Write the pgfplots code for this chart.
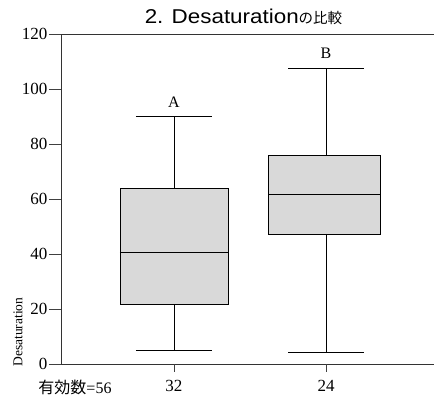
\documentclass[border=0pt]{standalone}
\usepackage{fontspec}
\setmainfont{Liberation Serif}
\newfontfamily\titlefont{Liberation Sans}
\newfontfamily\cjk{Noto Sans CJK JP}
\usepackage{graphicx}
\usepackage{pgfplots}
\pgfplotsset{compat=1.18}
\begin{document}
\begin{tikzpicture}
\begin{axis}[
  scale only axis,
  width=373pt, height=330pt,
  xmin=0.257, xmax=2.71,
  ymin=0, ymax=120,
  axis x line*=box,
  axis y line*=left,
  axis line style={line width=0.9pt, black!80},
  xtick={1,2}, xticklabels={32,24},
  xtick pos=bottom,
  x tick style={draw=none},
  xticklabel style={yshift=-1pt},
  ytick={0,20,...,120},
  tick align=outside,
  major tick length=12pt,
  y tick style={line width=0.8pt, black!75},
  yticklabel style={xshift=2pt},
  ticklabel style={font=\fontsize{17}{19}\selectfont},
  /pgf/number format/assume math mode=true,
  clip=false,
]
% group A: whiskers 5.1 / 90, quartiles 21.5 / 64, median 40.7
\addplot[draw=black, fill=gray!30, line width=0.8pt]
  coordinates {(0.645,21.5) (1.355,21.5) (1.355,64) (0.645,64)} -- cycle;
\addplot[black, line width=0.8pt] coordinates {(0.645,40.7) (1.355,40.7)};
\addplot[black, line width=0.8pt] coordinates {(1,64) (1,90)};
\addplot[black, line width=0.8pt] coordinates {(1,21.5) (1,5.1)};
\addplot[black, line width=0.8pt] coordinates {(0.75,90) (1.25,90)};
\addplot[black, line width=0.8pt] coordinates {(0.75,5.1) (1.25,5.1)};
% group B: whiskers 4.4 / 107.6, quartiles 47.3 / 76, median 61.5
\addplot[draw=black, fill=gray!30, line width=0.8pt]
  coordinates {(1.62,47.3) (2.36,47.3) (2.36,76) (1.62,76)} -- cycle;
\addplot[black, line width=0.8pt] coordinates {(1.62,61.5) (2.36,61.5)};
\addplot[black, line width=0.8pt] coordinates {(2,76) (2,107.6)};
\addplot[black, line width=0.8pt] coordinates {(2,47.3) (2,4.4)};
\addplot[black, line width=0.8pt] coordinates {(1.75,107.6) (2.25,107.6)};
\addplot[black, line width=0.8pt] coordinates {(1.75,4.4) (2.25,4.4)};
% short tick marks under each group
\draw[line width=0.8pt, black!75] (axis cs:1,0) -- ([yshift=-8pt]axis cs:1,0);
\draw[line width=0.8pt, black!75] (axis cs:2,0) -- ([yshift=-8pt]axis cs:2,0);
\node[font=\fontsize{16}{18}\selectfont] at (axis cs:1,95.3) {A};
\node[font=\fontsize{16}{18}\selectfont] at (axis cs:2,113) {B};
\end{axis}
\node[anchor=base, inner sep=0pt] at (182.5pt,340pt)
  {\scalebox{1.12}[1]{\fontsize{20}{22}\titlefont 2. Desaturation}{\cjk\fontsize{14.5}{16}\selectfont の比較}};
\node[rotate=90, font=\fontsize{13.5}{15}\selectfont] at (-43pt,32pt) {Desaturation};
\node[font=\fontsize{16}{18}\selectfont, anchor=base] at (14pt,-29pt) {{\cjk 有効数}=56};
\pgfresetboundingbox
\path[use as bounding box] (-61pt,-33pt) rectangle (373pt,364pt);
\end{tikzpicture}
\end{document}
